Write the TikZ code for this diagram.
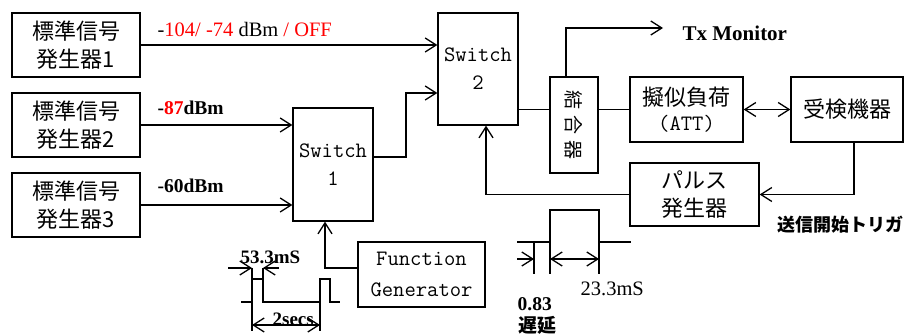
\documentclass[tikz,border=0pt]{standalone}
\usepackage{fontspec}
\setmainfont{Liberation Serif}
\newfontfamily\jp{Noto Sans CJK JP}
\newcommand\mymono{\ttfamily}
\usetikzlibrary{arrows.meta}
\begin{document}
\begin{tikzpicture}[x=1pt,y=-1pt,line width=1.3pt,
  box/.style={draw,line width=1.3pt,inner sep=0pt,align=center},
  jpbox/.style={box,font=\jp\fontsize{22}{28}\selectfont},
  monobox/.style={box,font=\mymono\fontsize{22}{28}\selectfont},
  lbl/.style={inner sep=0pt,font=\fontsize{20.5}{22}\selectfont},
  arr/.style={-{Straight Barb[length=11pt,width=14pt,line width=1.3pt]}},
  darr/.style={{Straight Barb[length=11pt,width=14pt,line width=1.3pt]}-{Straight Barb[length=11pt,width=14pt,line width=1.3pt]}},
  wave/.style={line width=1.3pt}
]
\useasboundingbox (0,0) rectangle (909,336);

% boxes
\node[jpbox,minimum width=128pt,minimum height=64pt] (sg1) at (76,45) {標準信号\\発生器1};
\node[jpbox,minimum width=128pt,minimum height=64pt] (sg2) at (76,125) {標準信号\\発生器2};
\node[jpbox,minimum width=128pt,minimum height=64pt] (sg3) at (76,205) {標準信号\\発生器3};
\node[monobox,minimum width=80pt,minimum height=113pt] (sw1) at (333,164.5) {Switch\\1};
\node[monobox,minimum width=80pt,minimum height=112pt] (sw2) at (478,69) {Switch\\2};
\node[box,minimum width=48pt,minimum height=96pt] (cpl) at (574,125) {};
\node[rotate=-90,inner sep=0pt,font=\jp\fontsize{19}{20}\selectfont] (cpltxt) at (cpl) {結\hspace{6pt}合\hspace{6pt}器};
\node[box,minimum width=113pt,minimum height=65pt] (att) at (686.5,109.5)
  {{\jp\fontsize{22}{22}\selectfont 擬似負荷}\\[7pt]{\mymono\fontsize{22}{22}\selectfont (ATT)}};
\node[jpbox,minimum width=112pt,minimum height=65pt] (dut) at (847,109.5) {受検機器};
\node[jpbox,minimum width=129pt,minimum height=63pt] (pg) at (694.5,194.5) {パルス\\発生器};
\node[box,minimum width=127pt,minimum height=65pt,font=\mymono\fontsize{22}{31}\selectfont] (fg) at (421.5,274.5) {Function\\Generator};

% labels
\node[lbl,anchor=base west] (l1) at (157,37) {-\textcolor{red}{104/ -74} dBm \textcolor{red}{/ OFF}};
\node[lbl,anchor=base west,font=\fontsize{19.5}{22}\selectfont\bfseries] (l2) at (157,115) {-\textcolor{red}{87}dBm};
\node[lbl,anchor=base west,font=\fontsize{19.5}{22}\selectfont\bfseries] (l3) at (157,193) {-60dBm};
\node[lbl,anchor=base west,font=\fontsize{21}{22}\selectfont\bfseries] (txm) at (682,41) {Tx Monitor};
\node[inner sep=0pt,font=\jp\bfseries\fontsize{18}{20}\selectfont] (trig) at (840,225) {送信開始トリガ};

% connectors
\draw[arr] (sg1.east) -- (sg1.east -| sw2.west);
\draw[arr] (sg2.east) -- (sg2.east -| sw1.west);
\draw[arr] (sg3.east) -- (sg3.east -| sw1.west);
\coordinate (j1) at (406,93);
\draw[arr] ([yshift=7.5pt]sw1.east) -| (j1) -- (j1 -| sw2.west);
\draw (sw2.east |- att.west) -- (cpl.west |- att.west);
\draw (cpl.east |- att.west) -- (att.west);
\draw[darr] (att.east) -- (dut.west);
\coordinate (txend) at (663,28);
\draw[arr] ([xshift=-8pt]cpl.north) |- (txend);
\draw[arr] ([xshift=7pt]dut.south) |- (pg.east);
\draw[arr] (pg.west) -| ([xshift=8pt]sw2.south);
\draw[arr] ([yshift=6.5pt]fg.west) -| ([xshift=-8pt]sw1.south);

% waveform 1
\draw[wave] (241,302) -- (252,302) -- (252,279) -- (263,279) -- (263,302) -- (320,302) -- (320,279) -- (330,279) -- (330,302) -- (340,302);
\draw[wave] (252,268) -- (252,331);
\draw[wave] (263,268) -- (263,279);
\draw[wave] (320,302) -- (320,331);
\draw[arr] (228,268) -- (252,268);
\draw[arr] (279,268) -- (263,268);
\draw[darr] (252,325) -- (320,325);
\node[lbl,anchor=base west,font=\fontsize{19}{20}\selectfont\bfseries] (w1a) at (240,264) {53.3mS};
\node[lbl,anchor=base west,font=\fontsize{19}{20}\selectfont\bfseries] (w1b) at (272,325) {2secs};

% waveform 2
\draw[wave] (517,242) -- (550,242) -- (550,210) -- (599,210) -- (599,242) -- (631,242);
\draw[wave] (534,242) -- (534,274);
\draw[wave] (550,242) -- (550,274);
\draw[wave] (599,242) -- (599,274);
\draw[arr] (517,259) -- (534,259);
\draw[darr] (550,259) -- (599,259);
\node[lbl,anchor=base west] (w2a) at (580,295) {23.3mS};
\node[lbl,anchor=base west,font=\fontsize{19.5}{22}\selectfont\bfseries] (w2b) at (517,310) {0.83};
\node[inner sep=0pt,font=\jp\bfseries\fontsize{19}{20}\selectfont] (w2c) at (537,325.5) {遅延};
\end{tikzpicture}
\end{document}
